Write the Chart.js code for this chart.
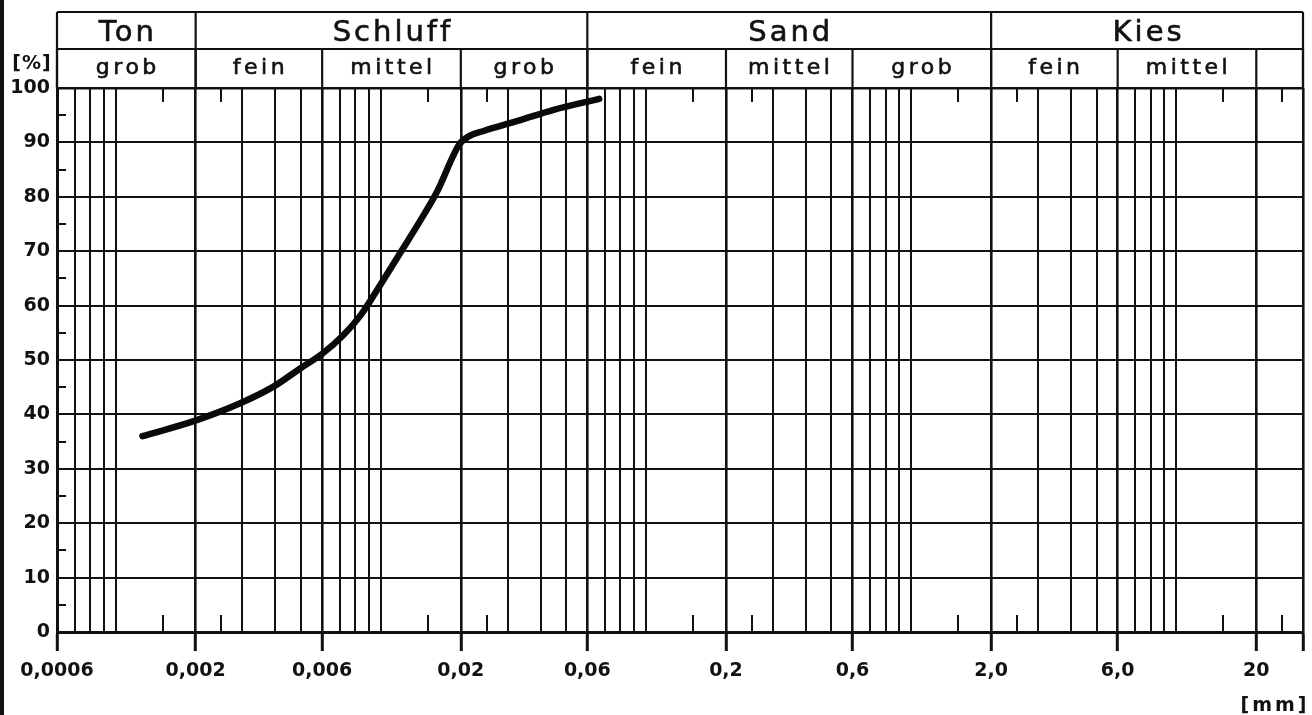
<!DOCTYPE html>
<html lang="de">
<head>
  <meta charset="UTF-8">
  <title>Körnungslinie</title>
  <script src="https://cdn.jsdelivr.net/npm/chart.js"></script>
  <style>
    body { margin: 0; background: #fff; }
    .wrap { width: 1312px; height: 715px; position: relative; }
  </style>
</head>
<body>
  <div class="wrap"><canvas id="grain"></canvas></div>

  <script>
    // Korndurchmesser [mm] und Siebdurchgang [%]
    const grainSize = [0.00126, 0.00198, 0.0029, 0.00393, 0.00494, 0.00602, 0.00722, 0.0084, 0.00979,
                       0.01175, 0.0141, 0.01641, 0.01854, 0.0197, 0.02158, 0.02437, 0.033, 0.0448, 0.0665];
    const passing = [36.0, 38.8, 41.9, 45.1, 48.4, 51.2, 54.6, 58.3, 63.3,
                     69.5, 75.7, 81.3, 87.1, 89.6, 91.2, 92.1, 94.0, 96.0, 98.0];

    // x-Achse: Hauptteilung mit Beschriftung, volle Zwischenlinien, kurze Striche
    const majorTicks = [0.0006, 0.002, 0.006, 0.02, 0.06, 0.2, 0.6, 2, 6, 20, 30];
    const majorLabels = ['0,0006', '0,002', '0,006', '0,02', '0,06', '0,2', '0,6', '2,0', '6,0', '20', ''];
    const minorLines = [0.0007, 0.0008, 0.0009, 0.001, 0.003, 0.004, 0.005,
                        0.007, 0.008, 0.009, 0.01, 0.03, 0.04, 0.05,
                        0.07, 0.08, 0.09, 0.1, 0.3, 0.4, 0.5,
                        0.7, 0.8, 0.9, 1, 3, 4, 5, 7, 8, 9, 10];
    const shortTicks = [0.0015, 0.0025, 0.015, 0.025, 0.15, 0.25, 1.5, 2.5, 15, 25];

    // y-Achse
    const yMinorTicks = [5, 15, 25, 35, 45, 55, 65, 75, 85, 95];

    // Kopf: Bodenarten und Unterteilung
    const mainNames = ['Ton', 'Schluff', 'Sand', 'Kies'];
    const mainBounds = [0.0006, 0.002, 0.06, 2, 30];
    const subNames = ['grob', 'fein', 'mittel', 'grob', 'fein', 'mittel', 'grob', 'fein', 'mittel', ''];
    const subBounds = [0.0006, 0.002, 0.006, 0.02, 0.06, 0.2, 0.6, 2, 6, 20, 30];

    const INK = '#111';
    const FONT = 'DejaVu Sans';

    const majorIndex = v => majorTicks.findIndex(m => Math.abs(m - v) / m < 1e-6);

    const sheetPlugin = {
      id: 'sheet',
      afterDraw(chart) {
        const { ctx, chartArea: a, scales: { x, y } } = chart;
        ctx.save();
        ctx.strokeStyle = INK;
        ctx.fillStyle = INK;

        // kurze Striche oben und unten
        ctx.lineWidth = 2;
        shortTicks.forEach(v => {
          const px = Math.round(x.getPixelForValue(v));
          ctx.beginPath();
          ctx.moveTo(px, a.top); ctx.lineTo(px, a.top + 14);
          ctx.moveTo(px, a.bottom); ctx.lineTo(px, a.bottom - 17);
          ctx.stroke();
        });

        // 5-%-Striche an der linken Achse
        yMinorTicks.forEach(v => {
          const py = Math.round(y.getPixelForValue(v));
          ctx.beginPath();
          ctx.moveTo(a.left, py); ctx.lineTo(a.left + 9, py);
          ctx.stroke();
        });

        // Kopftabelle
        const top = 12, mid = 49, bot = a.top;
        ctx.lineWidth = 2.2;
        ctx.beginPath();
        ctx.moveTo(a.left, top); ctx.lineTo(a.right, top);
        ctx.moveTo(a.left, mid); ctx.lineTo(a.right, mid);
        ctx.stroke();
        mainBounds.forEach(v => {
          const px = x.getPixelForValue(v);
          ctx.beginPath(); ctx.moveTo(px, top); ctx.lineTo(px, bot); ctx.stroke();
        });
        subBounds.forEach(v => {
          const px = x.getPixelForValue(v);
          ctx.beginPath(); ctx.moveTo(px, mid); ctx.lineTo(px, bot); ctx.stroke();
        });

        ctx.textAlign = 'center';
        ctx.textBaseline = 'alphabetic';
        ctx.letterSpacing = '3px';
        ctx.font = `29px "${FONT}"`;
        ctx.lineWidth = 0.6;
        mainNames.forEach((n, i) => {
          const cx = (x.getPixelForValue(mainBounds[i]) + x.getPixelForValue(mainBounds[i + 1])) / 2;
          ctx.fillText(n, cx + 1.5, 41);
          ctx.strokeText(n, cx + 1.5, 41);
        });
        ctx.letterSpacing = '3.5px';
        ctx.font = `22px "${FONT}"`;
        subNames.forEach((n, i) => {
          if (!n) return;
          const cx = (x.getPixelForValue(subBounds[i]) + x.getPixelForValue(subBounds[i + 1])) / 2;
          ctx.fillText(n, cx + 1.5, 74);
          ctx.strokeText(n, cx + 1.5, 74);
        });

        // Einheiten
        ctx.letterSpacing = '1px';
        ctx.font = `bold 19px "${FONT}"`;
        ctx.fillText('[%]', 32, 69);
        ctx.letterSpacing = '3px';
        ctx.fillText('[mm]', 1275, 711);

        // Scanrand links
        ctx.fillRect(0, 0, 4, 715);
        ctx.restore();
      }
    };

    new Chart(document.getElementById('grain'), {
      type: 'line',
      data: {
        datasets: [{
          data: grainSize.map((g, i) => ({ x: g, y: passing[i] })),
          borderColor: '#0a0a0a',
          borderWidth: 6.5,
          borderCapStyle: 'round',
          borderJoinStyle: 'round',
          cubicInterpolationMode: 'monotone',
          pointRadius: 0,
          fill: false
        }]
      },
      options: {
        responsive: true,
        maintainAspectRatio: false,
        animation: false,
        layout: { padding: { top: 88, right: 6, left: 0, bottom: 0 } },
        plugins: { legend: { display: false }, tooltip: { enabled: false } },
        scales: {
          x: {
            type: 'logarithmic',
            min: 0.0006,
            max: 30,
            afterBuildTicks: s => {
              s.ticks = [...majorTicks, ...minorLines].sort((p, q) => p - q).map(v => ({ value: v }));
            },
            afterFit: s => { s.height = 83; },
            ticks: {
              autoSkip: false,
              maxRotation: 0,
              minRotation: 0,
              padding: 9,
              color: INK,
              font: { family: FONT, size: 19, weight: 'bold' },
              callback: v => {
                const i = majorIndex(v);
                return i >= 0 ? majorLabels[i] : '';
              }
            },
            grid: {
              color: INK,
              lineWidth: c => (majorIndex(c.tick.value) >= 0 ? 2.6 : 2),
              drawTicks: true,
              tickLength: 19,
              tickWidth: 3,
              tickColor: c => (majorIndex(c.tick.value) >= 0 ? INK : 'rgba(0,0,0,0)')
            },
            border: { color: INK, width: 3 }
          },
          y: {
            min: 0,
            max: 100,
            afterFit: s => { s.width = 57; },
            ticks: {
              stepSize: 10,
              padding: 7,
              color: INK,
              font: { family: FONT, size: 19, weight: 'bold' }
            },
            grid: {
              color: INK,
              lineWidth: c => (c.tick.value === 100 ? 2.6 : 2),
              drawTicks: false
            },
            border: { color: INK, width: 3 }
          }
        }
      },
      plugins: [sheetPlugin]
    });
  </script>
</body>
</html>
